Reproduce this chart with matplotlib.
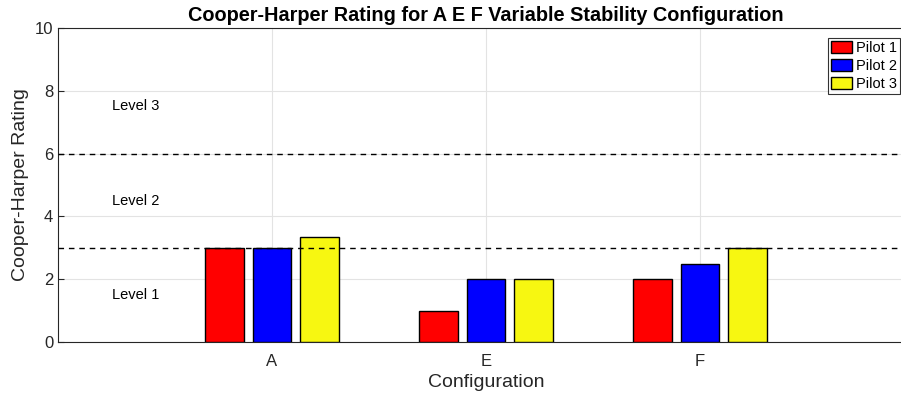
import matplotlib.pyplot as plt
import numpy as np

plt.rcParams['font.family'] = ['Liberation Sans', 'DejaVu Sans']

configs = ["A", "E", "F"]
pilots = ["Pilot 1", "Pilot 2", "Pilot 3"]
ratings = [
    [3, 1, 2],        # pilot 1
    [3, 2, 2.5],      # pilot 2
    [3.33, 2, 3],     # pilot 3
]
colours = ["#ff0000", "#0000ff", "#f7f711"]
level_bounds = [3, 6]
level_labels = ["Level 1", "Level 2", "Level 3"]
level_y = [1.5, 4.5, 7.5]


def main():
    fig = plt.figure(figsize=(9.01, 4), dpi=100)
    ax = fig.add_axes([58 / 901, 58 / 400, 856 / 901, 314 / 400])

    x = np.arange(1, len(configs) + 1)
    offs = [-0.222, 0, 0.222]
    for i in range(len(pilots)):
        ax.bar(x + offs[i], ratings[i], width=0.178, color=colours[i],
               edgecolor="black", linewidth=1, label=pilots[i], zorder=3)

    for b in level_bounds:
        ax.axhline(b, color="black", linestyle=(0, (4, 3.5)), linewidth=1, zorder=4)
    for lab, yy in zip(level_labels, level_y):
        ax.text(0.25, yy, lab, fontsize=10.5, ha="left", va="center")

    ax.set_xlim(0, 4)
    ax.set_ylim(0, 10)
    ax.set_xticks(x)
    ax.set_xticklabels(configs)
    ax.set_yticks(range(0, 11, 2))
    ax.tick_params(direction="in", labelsize=12, colors="#262626", length=4)
    ax.tick_params(axis="x", pad=8.5)
    ax.grid(True, color="#e3e3e3", linewidth=0.8, zorder=0)
    ax.set_axisbelow(True)
    for s in ax.spines.values():
        s.set_color("#262626")

    ax.set_xlabel("Configuration", fontsize=14, color="#262626", labelpad=4)
    ax.set_ylabel("Cooper-Harper Rating", fontsize=14, color="#262626")
    ax.set_title("Cooper-Harper Rating for A E F Variable Stability Configuration",
                 fontsize=14.3, fontweight="bold", pad=5)

    leg = ax.legend(loc="upper left", bbox_to_anchor=(0.8995, 0.968),
                    fancybox=False, edgecolor="black", fontsize=10.5,
                    handlelength=1.45, handleheight=0.92, handletextpad=0.25,
                    borderpad=0.2, labelspacing=0.25, borderaxespad=0)
    leg.get_frame().set_linewidth(0.8)

    fig.savefig("out.png", dpi=100)


main()
